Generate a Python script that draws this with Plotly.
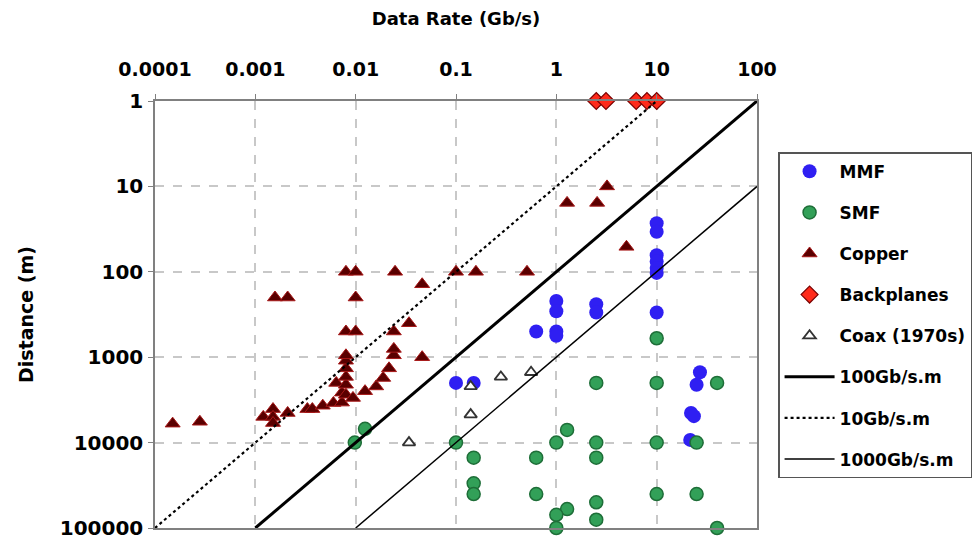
import plotly.graph_objects as go

# ---------------- data ----------------
mmf_rate = [1, 1, 0.63, 1, 1, 2.5, 2.5, 0.1, 0.15, 10, 10, 10, 10, 10, 10, 10, 27, 25, 22, 23.5, 21.6]
mmf_dist = [220, 290, 500, 500, 560, 240, 300, 2000, 2000, 27, 34, 64, 76, 90, 103, 300, 1500, 2100, 4500, 4900, 9300]

smf_rate = [0.0098, 0.0124, 10, 2.5, 10, 40, 0.1, 1.28, 1, 2.5, 10, 25, 0.15, 0.63, 2.5,
            0.15, 0.15, 0.63, 10, 25, 2.5, 1.28, 1, 2.5, 1, 40]
smf_dist = [10000, 6900, 600, 2000, 2000, 2000, 10000, 7100, 10000, 10000, 10000, 10000, 15000, 15000, 15000,
            30000, 40000, 40000, 40000, 40000, 50000, 60000, 70000, 80000, 100000, 100000]

copper_rate = [0.00015, 0.00028, 0.0012, 0.0015, 0.0015, 0.0015, 0.0021, 0.0033, 0.0037, 0.0047,
               0.006, 0.0073, 0.0073, 0.008, 0.0094, 0.0064, 0.008, 0.008, 0.008, 0.008,
               0.008, 0.0124, 0.016, 0.0188, 0.0215, 0.024, 0.024, 0.046, 0.034, 0.024,
               0.008, 0.01, 0.00157, 0.0021, 0.01, 0.008, 0.01, 0.0247, 0.046, 0.1,
               0.158, 0.51, 1.28, 2.55, 3.2, 5.0]
copper_dist = [6000, 5700, 5000, 4050, 5000, 5900, 4500, 4050, 4050, 3700,
               3440, 3400, 2600, 2750, 3000, 2000, 2100, 1700, 1350, 1100,
               950, 2500, 2200, 1750, 1350, 950, 800, 1000, 400, 500,
               500, 500, 200, 200, 200, 100, 100, 100, 140, 100,
               100, 100, 15.6, 15.6, 10, 51]

backplane_rate = [2.5, 3.125, 6.25, 8, 10]
backplane_dist = [1, 1, 1, 1, 1]

coax_rate = [0.14, 0.28, 0.56, 0.14, 0.034]
coax_dist = [2200, 1700, 1500, 4700, 10000]

# bandwidth-distance product lines (Gb/s.m) and their rate extents
line_names = ["100Gb/s.m", "10Gb/s.m", "1000Gb/s.m"]
line_products = [100, 10, 1000]
line_rates = [[0.001, 100], [0.0001, 10], [0.01, 100]]

x_ticks = [0.0001, 0.001, 0.01, 0.1, 1, 10, 100]
x_ticktext = ["0.0001", "0.001", "0.01", "0.1", "1", "10", "100"]
y_ticks = [1, 10, 100, 1000, 10000, 100000]
y_ticktext = ["1", "10", "100", "1000", "10000", "100000"]

# ---------------- figure ----------------
FONT = "DejaVu Sans"
fig = go.Figure()

fig.add_trace(go.Scatter(x=mmf_rate, y=mmf_dist, mode="markers", name="MMF", legendgroup="a",
                         marker=dict(symbol="circle", size=14, color="#2f1ff2",
                                     line=dict(width=0)), cliponaxis=False))
fig.add_trace(go.Scatter(x=smf_rate, y=smf_dist, mode="markers", name="SMF", legendgroup="b",
                         marker=dict(symbol="circle", size=13, color="#32a058",
                                     line=dict(width=1.5, color="#1e6e38")), cliponaxis=False))
fig.add_trace(go.Scatter(x=copper_rate, y=copper_dist, mode="markers", name="Copper", legendgroup="c",
                         marker=dict(symbol="triangle-up", size=13, color="#5a0000",
                                     line=dict(width=1, color="#a81818")), cliponaxis=False))
fig.add_trace(go.Scatter(x=backplane_rate, y=backplane_dist, mode="markers", name="Backplanes", legendgroup="d",
                         marker=dict(symbol="diamond", size=13, color="#ff2a1a",
                                     line=dict(width=1.2, color="#7a0000")), cliponaxis=False))
fig.add_trace(go.Scatter(x=coax_rate, y=coax_dist, mode="markers", name="Coax (1970s)", legendgroup="e",
                         marker=dict(symbol="triangle-up", size=11, color="white",
                                     line=dict(width=1.8, color="#333333")), cliponaxis=False))

line_styles = [dict(color="black", width=3, dash="solid"),
               dict(color="black", width=2.2, dash="dot"),
               dict(color="black", width=1.5, dash="solid")]
for i, (nm, prod, rr) in enumerate(zip(line_names, line_products, line_rates)):
    fig.add_trace(go.Scatter(x=rr, y=[prod / r for r in rr], mode="lines", name=nm,
                             legendgroup="l%d" % i, line=line_styles[i]))

axis_common = dict(type="log", showline=True, mirror=True, linecolor="#808080", linewidth=1.5,
                   showgrid=True, gridcolor="#c8c8c8", gridwidth=1.5, griddash="dash",
                   ticks="outside", ticklen=5, tickcolor="#808080", tickmode="array",
                   zeroline=False, automargin=False, ticklabeloverflow="allow")

fig.update_xaxes(**axis_common, side="top", range=[-4, 2], tickvals=x_ticks, ticktext=x_ticktext,
                 ticklabelstandoff=11,
                 tickfont=dict(family=FONT, size=19, color="black", weight="bold"),
                 title=dict(text="Data Rate (Gb/s)", standoff=27,
                            font=dict(family=FONT, size=18, color="black", weight="bold")))
fig.update_yaxes(**axis_common, range=[5, 0], tickvals=y_ticks, ticktext=y_ticktext,
                 ticklabelstandoff=1,
                 tickfont=dict(family=FONT, size=20, color="black", weight="bold"),
                 title=dict(text="Distance (m)", standoff=21,
                            font=dict(family=FONT, size=19, color="black", weight="bold")))

# the page body adds an 8px offset, so the figure is 8px smaller with shifted margins
fig.update_layout(
    width=972, height=531,
    margin=dict(l=147, r=223, t=93, b=11, autoexpand=False),
    paper_bgcolor="white", plot_bgcolor="white",
    showlegend=True,
    legend=dict(x=1.035, y=0.88, xanchor="left", yanchor="top",
                bordercolor="#555555", borderwidth=1.5, bgcolor="white",
                font=dict(family=FONT, size=17, color="black", weight="bold"),
                tracegroupgap=16, itemwidth=50),
)

fig.write_html("out.html")
